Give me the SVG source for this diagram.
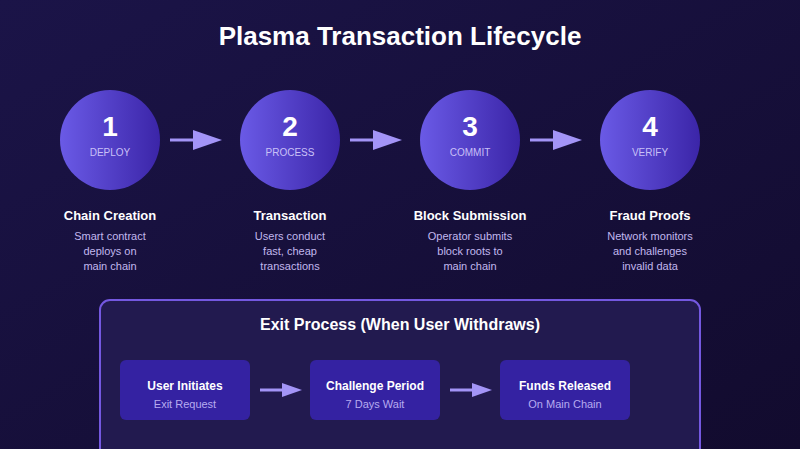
<svg xmlns="http://www.w3.org/2000/svg" width="800" height="449" viewBox="0 0 800 449">
<defs>
<linearGradient id="bg" x1="0" y1="0" x2="1" y2="1">
<stop offset="0" stop-color="#1b1448"/>
<stop offset="1" stop-color="#120b2e"/>
</linearGradient>
<linearGradient id="circ" x1="0" y1="0" x2="1" y2="0">
<stop offset="0" stop-color="#6a5ae6"/>
<stop offset="1" stop-color="#3b25a8"/>
</linearGradient>
<marker id="ah" viewBox="0 0 10 10" refX="0" refY="5" markerWidth="10" markerHeight="10" markerUnits="userSpaceOnUse" orient="auto">
<path d="M0,0 L10,5 L0,10 Z" fill="#a394f7"/>
</marker>
<style>
text{font-family:"Liberation Sans",Arial,sans-serif;text-anchor:middle}
.title{font-size:26px;font-weight:bold;fill:#ffffff}
.num{font-size:28px;font-weight:bold;fill:#ffffff}
.tag{font-size:10px;fill:#c9c0f7}
.head{font-size:13px;font-weight:bold;fill:#ffffff}
.desc{font-size:11px;fill:#c2b8ee}
.exitt{font-size:16px;font-weight:bold;fill:#ffffff}
.bh{font-size:12px;font-weight:bold;fill:#ffffff}
.bs{font-size:11px;fill:#b7abf0}
.circle{fill:url(#circ)}
.box{fill:#3422a2}
.ln{stroke:#a394f7;stroke-width:3}
.hd{fill:#a394f7}
</style>
</defs>
<rect width="800" height="449" fill="url(#bg)"/>
<text class="title" x="400" y="45">Plasma Transaction Lifecycle</text>

<g id="step1">
<circle class="circle" cx="110" cy="140" r="50"/>
<text class="num" x="110" y="136">1</text>
<text class="tag" x="110" y="156">DEPLOY</text>
<text class="head" x="110" y="220">Chain Creation</text>
<text class="desc" x="110" y="240">Smart contract</text>
<text class="desc" x="110" y="255">deploys on</text>
<text class="desc" x="110" y="270">main chain</text>
</g>
<g id="step2">
<circle class="circle" cx="290" cy="140" r="50"/>
<text class="num" x="290" y="136">2</text>
<text class="tag" x="290" y="156">PROCESS</text>
<text class="head" x="290" y="220">Transaction</text>
<text class="desc" x="290" y="240">Users conduct</text>
<text class="desc" x="290" y="255">fast, cheap</text>
<text class="desc" x="290" y="270">transactions</text>
</g>
<g id="step3">
<circle class="circle" cx="470" cy="140" r="50"/>
<text class="num" x="470" y="136">3</text>
<text class="tag" x="470" y="156">COMMIT</text>
<text class="head" x="470" y="220">Block Submission</text>
<text class="desc" x="470" y="240">Operator submits</text>
<text class="desc" x="470" y="255">block roots to</text>
<text class="desc" x="470" y="270">main chain</text>
</g>
<g id="step4">
<circle class="circle" cx="650" cy="140" r="50"/>
<text class="num" x="650" y="136">4</text>
<text class="tag" x="650" y="156">VERIFY</text>
<text class="head" x="650" y="220">Fraud Proofs</text>
<text class="desc" x="650" y="240">Network monitors</text>
<text class="desc" x="650" y="255">and challenges</text>
<text class="desc" x="650" y="270">invalid data</text>
</g>

<g id="exit-process">
<rect x="100" y="300" width="600" height="160" rx="10" fill="#221a4f" stroke="#7458e0" stroke-width="2"/>
<text class="exitt" x="400" y="330">Exit Process (When User Withdraws)</text>
</g>
<g id="exit1">
<rect class="box" x="120" y="360" width="130" height="60" rx="6"/>
<text class="bh" x="185" y="390">User Initiates</text>
<text class="bs" x="185" y="408">Exit Request</text>
</g>
<g id="exit2">
<rect class="box" x="310" y="360" width="130" height="60" rx="6"/>
<text class="bh" x="375" y="390">Challenge Period</text>
<text class="bs" x="375" y="408">7 Days Wait</text>
</g>
<g id="exit3">
<rect class="box" x="500" y="360" width="130" height="60" rx="6"/>
<text class="bh" x="565" y="390">Funds Released</text>
<text class="bs" x="565" y="408">On Main Chain</text>
</g>

<g id="connectors">
<line class="ln" x1="170" y1="140" x2="194" y2="140"/>
<path class="hd" d="M193,130 L222,140 L193,150 Z"/>
<line class="ln" x1="350" y1="140" x2="374" y2="140"/>
<path class="hd" d="M373,130 L402,140 L373,150 Z"/>
<line class="ln" x1="530" y1="140" x2="554" y2="140"/>
<path class="hd" d="M553,130 L582,140 L553,150 Z"/>
<line class="ln" x1="260" y1="390" x2="283" y2="390" stroke-width="2"/>
<path class="hd" d="M282,383 L302,390 L282,397 Z"/>
<line class="ln" x1="450" y1="390" x2="473" y2="390" stroke-width="2"/>
<path class="hd" d="M472,383 L492,390 L472,397 Z"/>
</g>
</svg>
